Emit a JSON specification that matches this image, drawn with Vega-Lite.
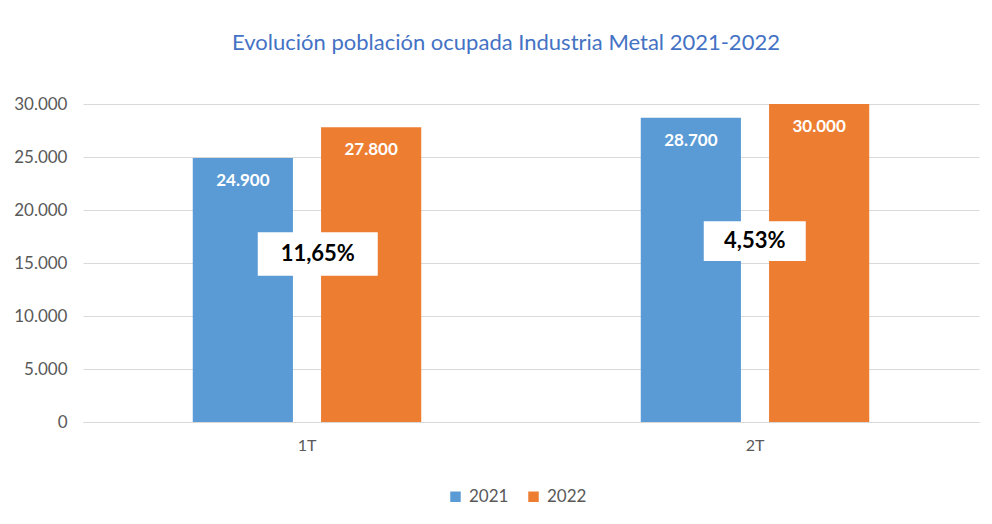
{
  "$schema": "https://vega.github.io/schema/vega-lite/v6.json",
  "width": 896,
  "height": 318,
  "padding": {"left": 13, "top": 32, "right": 14, "bottom": 10},
  "background": "white",
  "title": {
    "text": "Evolución población ocupada Industria Metal 2021-2022",
    "font": "Lato",
    "fontSize": 22,
    "fontWeight": "normal",
    "color": "#4472C4",
    "offset": 40,
    "anchor": "middle",
    "dx": -25
  },
  "datasets": {
    "pob": [
      {"trim": "1T", "year": "2021", "value": 24900},
      {"trim": "1T", "year": "2022", "value": 27800},
      {"trim": "2T", "year": "2021", "value": 28700},
      {"trim": "2T", "year": "2022", "value": 30000}
    ],
    "var": [
      {"trim": "1T", "label": "11,65%", "lo": 13800, "hi": 17900, "mid": 15850},
      {"trim": "2T", "label": "4,53%", "lo": 15200, "hi": 18950, "mid": 17075}
    ]
  },
  "layer": [
    {
      "data": {"name": "pob"},
      "mark": {"type": "bar"},
      "encoding": {
        "x": {
          "field": "trim", "type": "nominal",
          "scale": {"paddingInner": 0.49, "paddingOuter": 0.245},
          "axis": {"title": null, "labelAngle": 0, "ticks": false, "domainColor": "#D9D9D9", "labelFont": "Lato", "labelFontSize": 16, "labelColor": "#595959", "labelPadding": 15}
        },
        "xOffset": {"field": "year", "type": "nominal", "scale": {"paddingInner": 0.219, "paddingOuter": 0}},
        "y": {
          "field": "value", "type": "quantitative",
          "scale": {"domain": [0, 30000], "nice": false},
          "axis": {"title": null, "values": [0, 5000, 10000, 15000, 20000, 25000, 30000], "labelExpr": "replace(format(datum.value, ','), /,/g, '.')", "grid": true, "gridColor": "#D9D9D9", "domain": false, "ticks": false, "labelFont": "Lato", "labelFontSize": 17, "labelColor": "#595959", "labelPadding": 16}
        },
        "color": {
          "field": "year", "type": "nominal",
          "scale": {"domain": ["2021", "2022"], "range": ["#5B9BD5", "#ED7D31"]},
          "legend": {"title": null, "orient": "none", "legendX": 364, "legendY": 384, "direction": "horizontal", "symbolType": "square", "symbolSize": 110, "symbolStrokeWidth": 0, "labelFont": "Lato", "labelFontSize": 17, "labelColor": "#595959", "columnPadding": 16, "labelOffset": 5}
        }
      }
    },
    {
      "data": {"name": "pob"},
      "transform": [{"calculate": "replace(format(datum.value, ','), /,/g, '.')", "as": "lab"}],
      "mark": {"type": "text", "color": "white", "font": "Lato", "fontWeight": "bold", "fontSize": 17, "baseline": "middle", "dy": 23},
      "encoding": {
        "x": {"field": "trim", "type": "nominal"},
        "xOffset": {"field": "year", "type": "nominal"},
        "y": {"field": "value", "type": "quantitative"},
        "text": {"field": "lab", "type": "nominal"}
      }
    },
    {
      "data": {"name": "var"},
      "transform": [{"filter": "datum.trim === '1T'"}],
      "layer": [
        {
          "mark": {"type": "bar", "color": "white", "width": 120},
          "encoding": {
            "x": {"field": "trim", "type": "nominal"},
            "xOffset": {"value": 125},
            "y": {"field": "lo", "type": "quantitative"},
            "y2": {"field": "hi"}
          }
        },
        {
          "mark": {"type": "text", "color": "black", "font": "Lato", "fontWeight": "bold", "fontSize": 22, "baseline": "middle"},
          "encoding": {
            "x": {"field": "trim", "type": "nominal"},
            "xOffset": {"value": 125},
            "y": {"field": "mid", "type": "quantitative"},
            "text": {"field": "label", "type": "nominal"}
          }
        }
      ]
    },
    {
      "data": {"name": "var"},
      "transform": [{"filter": "datum.trim === '2T'"}],
      "layer": [
        {
          "mark": {"type": "bar", "color": "white", "width": 102},
          "encoding": {
            "x": {"field": "trim", "type": "nominal"},
            "xOffset": {"value": 114},
            "y": {"field": "lo", "type": "quantitative"},
            "y2": {"field": "hi"}
          }
        },
        {
          "mark": {"type": "text", "color": "black", "font": "Lato", "fontWeight": "bold", "fontSize": 22, "baseline": "middle"},
          "encoding": {
            "x": {"field": "trim", "type": "nominal"},
            "xOffset": {"value": 114},
            "y": {"field": "mid", "type": "quantitative"},
            "text": {"field": "label", "type": "nominal"}
          }
        }
      ]
    }
  ],
  "config": {"view": {"stroke": null}}
}
